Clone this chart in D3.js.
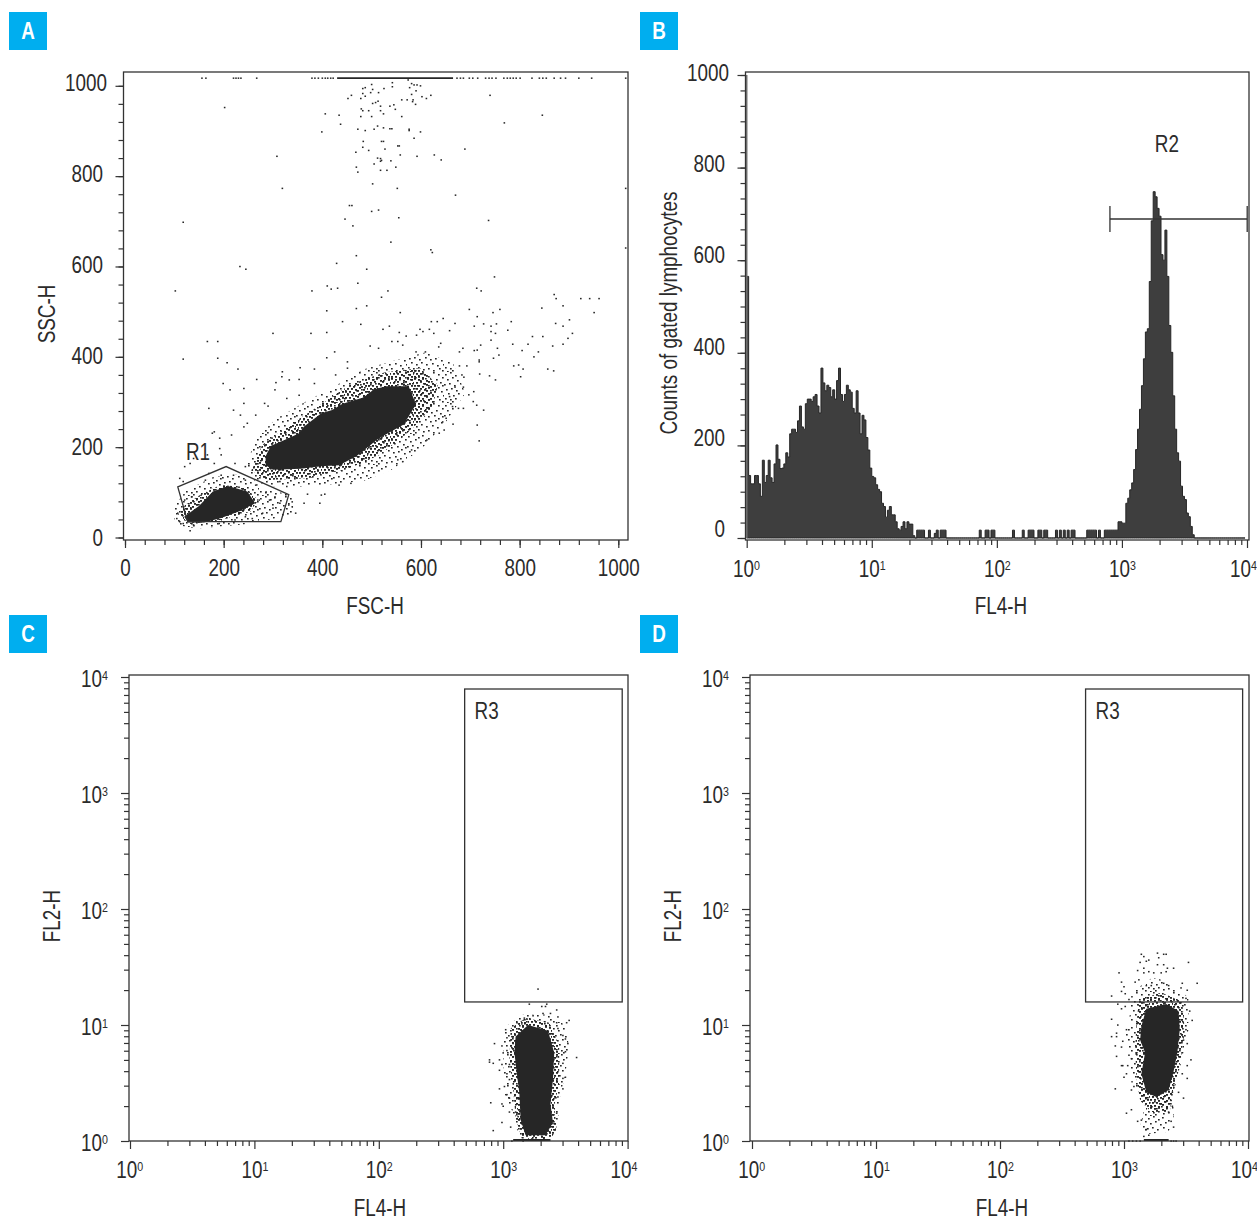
<!DOCTYPE html>
<html>
<head>
<meta charset="utf-8">
<script src="https://cdn.jsdelivr.net/npm/d3@7"></script>
<style>
  html, body { margin: 0; background: #fff; }
  svg { display: block; }
  text { font-family: "Liberation Sans", sans-serif; fill: #2b2b2b; font-size: 23px; }
  .tick line, .box, .gate { stroke: #333; }
  .box, .gate { fill: none; stroke-width: 1.3; }
</style>
</head>
<body>
<svg id="chart" width="1257" height="1219"></svg>
<script>
// panel A: FSC-H / SSC-H values
const linearMajor = [0, 200, 400, 600, 800, 1000];
const topRowSolid = [430, 665];
const topRowFsc = [156,164,220,225,230,235,267,379,385,392,400,406,411,417,422,673,680,686,698,705,715,731,738,744,752,768,775,781,787,793,801,825,840,847,854,870,883,893,920,946,1015];
const sparseHigh = [[202,952],[308,844],[319,773],[118,698],[233,600],[245,594],[102,546],[406,938],[434,935],[437,915],[399,898],
  [452,972],[459,979],[478,972],[482,983],[482,994],[487,996],[487,977],[498,985],[502,992],[500,1003],[514,985],[525,994],[542,1007],[542,998],[574,1013],[577,996],[581,1005],[586,1002],[592,1002],[599,1000],[590,989],[581,981],[584,969],[602,976],[611,972],[620,979],[583,965],[589,959],[561,969],[572,969],
  [502,961],[508,963],[513,966],[518,955],[518,945],[537,955],[545,958],[548,948],[479,949],[482,945],[494,945],[478,932],[500,932],[524,938],[561,932],[512,911],[524,907],[505,904],[472,904],[487,901],[537,905],[541,905],[576,904],[576,901],[599,898],[586,884],
  [483,877],[520,877],[524,877],[553,867],[556,867],[482,864],[494,857],[527,860],[468,853],[558,847],[592,844],[627,847],[641,836],[689,860],[512,840],[518,839],[520,835],[518,833],[505,827],[539,834],[549,820],[469,820],[472,809],[518,813],[531,813],[502,783],[552,773],[670,758],[455,735],[460,735],[500,722],[514,725],[446,705],[462,690],[555,708],[737,702],[539,654],[620,637],[623,631],[469,624],[429,607],[490,594],[749,577],[472,563],[410,557],[418,550],[431,552],[379,546],[533,546],[713,552],[722,546],[520,532],[870,538],[874,529],[924,529],[942,529],[961,529],[740,979],[769,918],[846,935],[1015,773],[1015,641]];
const sparseSide = [[951,498],[888,513],[845,508],[901,482],[873,474],[888,468],[907,452],[898,441],[888,428],[867,424],[847,445],[826,445],[817,428],[838,411],[829,400],[805,414],[798,382],[788,380],[807,373],[802,356],[857,373],[869,369],[786,428],[783,478],[776,459],[760,505],[746,498],[753,473],[742,468],[727,473],[714,489],[708,468],[698,505],[742,456],[751,452],[742,437],[721,426],[714,415],[708,414],[718,393],[718,389],[747,397],[758,404],[755,419],[685,419],[678,411],[669,474],[658,458],[645,485],[621,478],[633,478],[598,461],[604,456],[591,448],[617,461],[626,452],[640,430],[636,422],[609,411],[590,411],[558,498],[536,468],[523,461],[556,454],[570,446],[541,434],[553,434],[563,426],[514,419],[497,424],[409,502],[441,478],[478,472],[469,507],[490,513],[377,452],[409,454],[300,452],[167,434],[188,434],[118,395],[188,397],[207,387],[229,373],[199,341],[213,327],[241,330],[267,350],[306,343],[319,367],[333,349],[353,350],[355,376],[384,373],[409,398],[425,411],[451,389],[451,375],[427,360],[384,341],[353,315],[328,308],[304,327],[318,356],[265,271],[248,253],[234,271],[220,282],[241,297],[170,286],[177,231],[192,220],[216,227],[241,245],[283,297],[290,291],[707,323],[697,316],[686,333],[669,333],[658,312],[664,290],[676,286],[686,286],[706,301],[713,293],[727,282],[714,249],[718,214],[665,251],[644,256],[651,264],[637,231],[647,238],[612,216],[581,194],[563,168],[553,172],[683,360],[693,380],[678,380],[687,355],[739,358],[751,349],[719,362],[458,120],[434,116],[398,94],[405,96],[395,76],[370,96],[346,54],[363,76],[339,79],[328,113],[314,124],[258,149],[244,157],[223,164],[181,164],[139,175],[121,157],[132,164],[132,15],[195,183],[167,183],[192,197],[181,234]];
const sparseGate = [[107,54],[105,42],[111,35],[118,31],[139,28],[121,83],[135,90],[118,124],[111,131],[163,127],[170,142],[195,138],[220,138],[244,127],[265,116],[286,101],[304,90],[314,76],[332,72],[339,68],[279,54],[258,42],[244,46],[191,31],[223,39],[300,65],[293,83],[272,83]];
const mainCore = [[285,180],[296,203],[328,218],[352,230],[363,246],[398,275],[420,282],[441,296],[483,310],[505,328],[530,335],[575,335],[590,295],[565,250],[525,226],[510,216],[497,204],[469,180],[434,160],[398,158],[356,152],[300,150],[285,160]];
const mainMid = [[257,149],[278,205],[334,249],[395,293],[456,338],[527,366],[598,375],[634,338],[622,282],[568,227],[517,183],[456,154],[375,132],[284,127]];
const mainHalo = [[245,150],[262,215],[305,262],[365,300],[425,335],[483,372],[546,392],[610,410],[665,385],[690,320],[650,255],[600,195],[540,150],[483,125],[420,118],[340,112],[270,115]];
const gateCore = [[120,46],[150,70],[178,102],[209,114],[248,102],[264,76],[232,58],[195,43],[160,33],[128,33]];
const gateMid = [[107,50],[122,72],[152,94],[193,116],[243,112],[270,83],[254,57],[193,39],[132,30]];
const gateHalo = [[100,70],[125,105],[181,135],[235,140],[285,105],[340,95],[340,50],[250,30],[146,20],[100,28]];
const r1Gate = [[107,112],[205,157],[332,95],[316,35],[127,35]];

// panel B: counts per channel, 256 channels over four decades
const histSpike = 1000;
const histCounts = [565,135,117,117,135,135,117,90,168,120,135,168,130,120,160,201,170,150,151,160,184,175,225,235,235,228,253,285,240,235,
  290,300,300,295,305,310,285,270,367,335,318,330,325,305,320,300,340,367,310,295,310,330,320,315,280,270,318,270,225,265,
  255,217,190,151,133,130,115,105,100,75,68,45,60,68,50,50,35,20,17,25,35,20,35,30,30,5,0,17,17,17,
  17,0,0,17,0,0,10,17,0,17,17,17,0,0,0,0,0,0,0,0,0,0,0,0,0,0,0,0,0,17,
  0,0,17,17,0,17,17,0,0,0,0,0,0,0,0,0,17,0,0,0,0,17,0,0,17,17,17,0,0,17,
  17,0,17,17,0,0,0,0,17,0,17,0,17,0,17,0,17,17,0,0,0,0,0,0,17,17,17,17,17,0,
  17,0,0,17,17,17,17,17,17,17,35,35,32,32,75,86,104,119,148,191,235,278,329,387,445,452,554,685,748,737,
  712,695,612,600,665,565,459,401,307,235,184,166,112,90,83,54,46,25,7,0,0,0,0,0,0,0,0,0,0,0,
  0,0,0,0,0,0,0,0,0,0,0,0,0,0,0,0];
const histTicks = [0, 200, 400, 600, 800, 1000];
const r2Range = [802, 10037];
const r2Level = 689;

// panels C and D: log10 of FL4-H / FL2-H
const decades = [1, 10, 100, 1000, 10000];
const r3Fl4 = [490, 9050];
const r3Fl2 = [15.8, 7880];
const cCore = [[3.1,.9],[3.2,1],[3.36,.95],[3.41,.76],[3.4,.53],[3.38,.32],[3.4,.16],[3.34,.05],[3.18,.05],[3.14,.18],[3.13,.41],[3.11,.58],[3.09,.76]];
const cMid = [[3.06,.97],[3.18,1.06],[3.37,1.02],[3.45,.82],[3.45,.5],[3.41,.3],[3.43,.1],[3.38,.02],[3.15,.02],[3.1,.2],[3.08,.45],[3.05,.7]];
const cHalo = [[3.01,.98],[3.16,1.09],[3.35,1.09],[3.5,1],[3.53,.81],[3.5,.58],[3.45,.35],[3.44,.15],[3.38,.01],[3.13,.01],[3.08,.24],[3.01,.41],[3,.7]];
const cDots = [[3.28,1.31],[3.21,1.18],[3.31,1.16],[3.34,1.16],[3.35,1.18],[3.43,1.13],[3.38,1.1],[3.32,1.1],[3.24,1.08],[3.17,1.06],[3.11,1.02],[3.15,1.01],[3.44,1.07],[3.43,1.02],[3.51,1.02],[3.53,1.04],[3.02,.96],[3.03,.89],[3.07,.9],[3.08,.84],[2.93,.84],[2.99,.82],[3.03,.78],[3,.76],[2.89,.7],[2.89,.68],[2.92,.67],[2.97,.7],[2.99,.66],[2.97,.61],[3.05,.66],[3.03,.58],[3.05,.53],[3.01,.47],[2.97,.45],[3.03,.4],[3.05,.37],[2.9,.33],[2.99,.32],[3,.3],[3.05,.25],[3.1,.25],[3.12,.21],[2.99,.16],[3.06,.12],[2.92,.09],[3.59,.72],[3.52,.84],[3.5,.77],[3.48,.67],[3.5,.55],[3.48,.54],[3.48,.45],[3.44,.38],[3.43,.24],[3.4,.15],[3.44,.97],[3.48,.91],[3.5,.88]];
const cBottomRow = [3.07,3.16];
const cBottomSolid = [3.08, 3.38];
const dCore = [[3.14,.99],[3.18,1.14],[3.34,1.18],[3.44,1.12],[3.45,.96],[3.43,.76],[3.4,.6],[3.36,.44],[3.26,.38],[3.18,.42],[3.14,.58],[3.17,.76],[3.13,.87]];
const dMid = [[3.1,1.0],[3.12,1.22],[3.3,1.28],[3.47,1.2],[3.49,.95],[3.46,.72],[3.42,.5],[3.38,.36],[3.37,.25],[3.22,.25],[3.13,.35],[3.1,.55],[3.09,.8]];
const dHalo = [[3.06,1.28],[3.23,1.41],[3.34,1.38],[3.52,1.24],[3.52,.96],[3.46,.67],[3.4,.44],[3.4,.21],[3.36,.08],[3.19,.06],[3.13,.12],[3.17,.32],[3.06,.5],[3.05,.73],[3.01,.93],[3.05,1.1]];
const dDots = [[3.14,1.61],[3.16,1.59],[3.18,1.55],[3.2,1.56],[3.27,1.62],[3.28,1.58],[3.32,1.61],[3.34,1.61],[3.13,1.54],[3.27,1.52],[3.32,1.52],[3.35,1.49],[3.4,1.49],[3.52,1.54],[3.11,1.47],[3.16,1.49],[3.16,1.45],[2.96,1.45],[3.2,1.46],[3.24,1.45],[3.3,1.45],[3.34,1.46],[3.59,1.36],[2.98,1.37],[3.09,1.37],[3.12,1.39],[3,1.33],[2.98,1.29],[3.01,1.27],[3.18,1.34],[3.22,1.34],[3.32,1.36],[3.36,1.34],[3.47,1.36],[2.9,1.25],[2.95,1.18],[2.98,1.14],[3.01,1.16],[3.04,1.22],[3.51,1.3],[3.46,1.32],[3.5,1.23],[3.53,1.12],[3.55,1.04],[2.9,1.05],[2.95,1],[2.9,.9],[2.94,.93],[2.94,.9],[3.02,.96],[2.93,.82],[2.98,.81],[2.99,.86],[2.94,.73],[3.04,.74],[3.06,.71],[2.98,.65],[2.99,.65],[3.03,.65],[3,.55],[3.02,.58],[2.93,.45],[3.06,.44],[3.08,.47],[3.5,.96],[3.48,.87],[3.51,.84],[3.54,.7],[3.51,.65],[3.51,.54],[3.47,.58],[3.44,.42],[3.48,.37],[3.39,.42],[3.38,.35],[3.39,.3],[3.06,.27],[3.02,.24],[3.11,.17],[3.14,.18],[3.36,.25],[3.38,.17],[3.4,.12],[3.18,.1],[3.2,.05],[3.16,.04]];
const dBottomRow = [3.04,3.07,3.1,3.13,3.38,3.4,3.42];
const dBottomSolid = [3.16, 3.36];

const dark = "#262626";
const svg = d3.select("#chart");
const defs = svg.append("defs");

// speckle textures for the loosely packed part of each cloud
function tile(id, w, h, size, list) {
  const cells = list.split(",").map((s) => s.split(" ").map(Number));
  defs.append("pattern").attr("id", id).attr("patternUnits", "userSpaceOnUse")
    .attr("width", w).attr("height", h)
    .selectAll("rect").data(cells).join("rect")
    .attr("x", (d) => d[0]).attr("y", (d) => d[1])
    .attr("width", size).attr("height", size * 0.9).attr("fill", dark);
}
tile("speckle", 37, 31, 1.7, "1 2,6 0,11 3,15 1,21 4,26 0,31 2,35 5,3 7,8 5,13 8,18 6,24 9,29 7,33 10,0 12,5 11,10 13,16 11,21 13,27 12,31 15,35 13,2 17,7 16,12 18,18 16,23 18,28 17,34 19,4 21,9 23,14 21,19 23,25 22,30 24,36 23,1 26,6 27,11 26,16 28,21 27,26 29,32 27,35 29,3 30,8 29");
tile("speckleDense", 23, 27, 2, "0 0,4 1,8 0,12 2,16 0,20 1,2 4,6 3,10 5,14 3,18 5,22 4,0 7,4 7,8 8,12 6,16 8,20 7,2 10,6 10,10 11,14 9,18 11,22 10,0 13,4 13,8 14,12 12,16 14,20 13,2 16,6 16,10 17,14 15,18 17,22 16,0 19,4 19,8 20,12 18,16 20,20 19,2 22,6 22,10 23,14 21,18 23,22 22,0 25,4 25,8 26,12 24,16 26,20 25");

function badge(letter, x, y) {
  svg.append("rect").attr("x", x).attr("y", y).attr("width", 38).attr("height", 38).attr("fill", "#00aeef");
  svg.append("text").attr("x", x + 19).attr("y", y + 27).attr("text-anchor", "middle")
    .style("font-weight", "bold").style("fill", "#fff").text(letter);
}

function axisLabel(text, x, y, rotate) {
  svg.append("text").attr("text-anchor", "middle")
    .attr("transform", `translate(${x},${y})` + (rotate ? " rotate(-90)" : "")).text(text);
}

function box(x0, y0, x1, y1) {
  svg.append("rect").attr("class", "box").attr("x", x0).attr("y", y0)
    .attr("width", x1 - x0).attr("height", y1 - y0);
}

function power(sel) {
  // turn 1000 into 10 with a raised 3
  sel.each(function (d) {
    const t = d3.select(this).text(null);
    t.append("tspan").text("10");
    t.append("tspan").attr("dy", -7).style("font-size", "13px").text(Math.round(Math.log10(d)));
  });
}

function logMinor(scale) {
  return scale.ticks().filter((v) => !decades.includes(v));
}

function styleAxis(g) {
  g.select(".domain").remove();
  g.selectAll("text").attr("fill", null).attr("font-size", null).attr("font-family", null);
  g.selectAll("line").attr("stroke", null).attr("stroke-width", 1.2);
}

function leftLabels(values, scale, x) {
  svg.append("g").selectAll("text").data(values).join("text")
    .attr("x", (d) => (d === 1000 ? x + 4 : x)).attr("y", (d) => scale(d)).attr("dy", "0.35em")
    .attr("text-anchor", "end").text((d) => d);
}

function bottomLog(x, yPos) {
  svg.append("g").attr("transform", `translate(0,${yPos})`)
    .call(d3.axisBottom(x).tickValues(logMinor(x)).tickSize(5).tickFormat(""))
    .call(styleAxis);
  const g = svg.append("g").attr("transform", `translate(0,${yPos})`)
    .call(d3.axisBottom(x).tickValues(decades).tickSize(8).tickPadding(13))
    .call(styleAxis);
  g.selectAll("text").call(power).attr("dx", (d) => (d === 10000 ? -5 : d === 1 ? -1 : 0));
}

function dots(layer, data, x, y) {
  layer.selectAll(null).data(data).join("rect")
    .attr("x", (d) => x(d[0]) - 0.8).attr("y", (d) => y(d[1]) - 0.7)
    .attr("width", 1.6).attr("height", 1.5).attr("fill", dark);
}

function blob(layer, points, x, y, fills) {
  const line = d3.line().x((d) => x(d[0])).y((d) => y(d[1])).curve(d3.curveLinearClosed);
  fills.forEach((fill) => layer.append("path").attr("d", line(points)).attr("fill", fill));
}

/* ---------- A ---------- */
badge("A", 9, 12);
const xA = d3.scaleLinear().domain([0, 1000]).range([125, 618.3]);
const yA = d3.scaleLinear().domain([0, 1000]).range([537.5, 85.8]);
const yALabel = d3.scaleLinear().domain([0, 1000]).range([538, 83]);
const layerA = svg.append("g");
blob(layerA, mainHalo, xA, yA, ["url(#speckle)"]);
blob(layerA, gateHalo, xA, yA, ["url(#speckle)"]);
blob(layerA, mainMid, xA, yA, ["url(#speckleDense)"]);
blob(layerA, gateMid, xA, yA, ["url(#speckleDense)"]);
blob(layerA, mainCore, xA, yA, [dark]);
blob(layerA, gateCore, xA, yA, [dark]);
dots(layerA, sparseHigh, xA, yA);
dots(layerA, sparseSide, xA, yA);
dots(layerA, sparseGate, xA, yA);
dots(layerA, topRowFsc.map((v) => [v, 1017]), xA, yA);
layerA.append("line").attr("x1", xA(topRowSolid[0])).attr("x2", xA(topRowSolid[1]))
  .attr("y1", yA(1017)).attr("y2", yA(1017)).attr("stroke", dark).attr("stroke-width", 1.6);
svg.append("path").attr("class", "gate")
  .attr("d", d3.line().x((d) => xA(d[0])).y((d) => yA(d[1])).curve(d3.curveLinearClosed)(r1Gate));
svg.append("text").attr("x", xA(148)).attr("y", yA(190)).attr("dy", "0.35em")
  .attr("text-anchor", "middle").text("R1");
box(123.5, 72, 628, 540);
svg.append("g").attr("transform", "translate(0,540)")
  .call(d3.axisBottom(xA).tickValues(d3.range(0, 1001, 40)).tickSize(5).tickFormat(""))
  .call(styleAxis);
svg.append("g").attr("transform", "translate(0,540)")
  .call(d3.axisBottom(xA).tickValues(linearMajor).tickSize(8).tickPadding(12).tickFormat(d3.format("d")))
  .call(styleAxis);
svg.append("g").attr("transform", "translate(123.5,0)")
  .call(d3.axisLeft(yA).tickValues(d3.range(0, 1001, 40)).tickSize(5).tickFormat(""))
  .call(styleAxis);
svg.append("g").attr("transform", "translate(123.5,0)")
  .call(d3.axisLeft(yA).tickValues(linearMajor).tickSize(8).tickFormat(""))
  .call(styleAxis);
leftLabels(linearMajor, yALabel, 103);
axisLabel("FSC-H", 375, 614);
axisLabel("SSC-H", 55, 314, true);

/* ---------- B ---------- */
badge("B", 640, 12);
const xB = d3.scaleLog().domain([1, 10000]).range([746.7, 1247]);
const yB = d3.scaleLinear().domain([0, 1000]).range([538, 75]);
const yBLabel = d3.scaleLinear().domain([0, 1000]).range([529, 73]);
const histArea = d3.area()
  .x((d, i) => xB(10 ** (i / 64)))
  .y0(yB(0)).y1((d) => yB(d))
  .curve(d3.curveStepAfter);
svg.append("path").attr("d", histArea(histCounts))
  .attr("fill", "#3e3e3e").attr("stroke", "#262626").attr("stroke-width", 1);
svg.append("line").attr("x1", xB(1)).attr("x2", xB(1)).attr("y1", yB(0)).attr("y2", yB(histSpike))
  .attr("stroke", "#777").attr("stroke-width", 1.6);
box(745.5, 72, 1249, 540);
svg.append("g").attr("transform", "translate(745.5,0)")
  .call(d3.axisLeft(yB).tickValues(d3.range(0, 1001, 100 / 3)).tickSize(5).tickFormat(""))
  .call(styleAxis);
svg.append("g").attr("transform", "translate(745.5,0)")
  .call(d3.axisLeft(yB).tickValues(histTicks).tickSize(8).tickFormat(""))
  .call(styleAxis);
leftLabels(histTicks, yBLabel, 725);
bottomLog(xB, 540);
// R2 marker
svg.append("line").attr("x1", xB(r2Range[0])).attr("x2", xB(r2Range[1]))
  .attr("y1", yB(r2Level)).attr("y2", yB(r2Level)).attr("stroke", "#333").attr("stroke-width", 1.3);
svg.selectAll(null).data(r2Range).join("line")
  .attr("x1", (d) => xB(d)).attr("x2", (d) => xB(d))
  .attr("y1", yB(r2Level) - 13).attr("y2", yB(r2Level) + 13)
  .attr("stroke", "#333").attr("stroke-width", 1.3);
svg.append("text").attr("x", xB(2290)).attr("y", yB(851)).attr("dy", "0.35em")
  .attr("text-anchor", "middle").text("R2");
axisLabel("FL4-H", 1001, 614);
axisLabel("Counts of gated lymphocytes", 677, 313, true);

/* ---------- C and D ---------- */
function logPanel(opts) {
  const x = d3.scaleLog().domain([1, 10000]).range(opts.xRange);
  const y = d3.scaleLog().domain([1, 10000]).range([1141, 677]);
  const lx = (v) => x(10 ** v);
  const ly = (v) => y(10 ** v);
  const layer = svg.append("g");
  blob(layer, opts.halo, lx, ly, ["url(#speckle)"]);
  blob(layer, opts.mid, lx, ly, ["url(#speckleDense)"]);
  blob(layer, opts.core, lx, ly, [dark]);
  dots(layer, opts.dots, lx, ly);
  dots(layer, opts.bottomRow.map((v) => [v, 0]), lx, ly);
  layer.append("line").attr("x1", lx(opts.bottomSolid[0])).attr("x2", lx(opts.bottomSolid[1]))
    .attr("y1", 1140).attr("y2", 1140).attr("stroke", dark).attr("stroke-width", 2);
  box(opts.left, 675, opts.right, 1141);
  svg.append("rect").attr("class", "box").attr("x", x(r3Fl4[0])).attr("y", y(r3Fl2[1]))
    .attr("width", x(r3Fl4[1]) - x(r3Fl4[0])).attr("height", y(r3Fl2[0]) - y(r3Fl2[1]));
  svg.append("text").attr("x", x(r3Fl4[0]) + 22).attr("y", 711).attr("dy", "0.35em")
    .attr("text-anchor", "middle").text("R3");
  bottomLog(x, 1141);
  svg.append("g").attr("transform", `translate(${opts.left},0)`)
    .call(d3.axisLeft(y).tickValues(logMinor(y)).tickSize(5).tickFormat(""))
    .call(styleAxis);
  const g = svg.append("g").attr("transform", `translate(${opts.left},0)`)
    .call(d3.axisLeft(y).tickValues(decades).tickSize(8).tickPadding(13))
    .call(styleAxis);
  g.selectAll("text").attr("dy", "0.42em").call(power);
  axisLabel("FL4-H", opts.xLabel, 1216);
  axisLabel("FL2-H", opts.left - 69, 916, true);
}

badge("C", 9, 615);
logPanel({ left: 129, right: 628, xRange: [130, 627.6], core: cCore, mid: cMid, halo: cHalo, dots: cDots,
  bottomRow: cBottomRow, bottomSolid: cBottomSolid, xLabel: 380 });
badge("D", 640, 615);
logPanel({ left: 750, right: 1249, xRange: [752, 1248], core: dCore, mid: dMid, halo: dHalo, dots: dDots,
  bottomRow: dBottomRow, bottomSolid: dBottomSolid, xLabel: 1002 });

// no condensed face is installed, so squeeze every text around its anchor
svg.selectAll("text").each(function () {
  const t = d3.select(this);
  const x = +t.attr("x") || 0;
  t.attr("transform", `${t.attr("transform") || ""} translate(${x},0) scale(0.82,1) translate(${-x},0)`);
});
</script>
</body>
</html>
